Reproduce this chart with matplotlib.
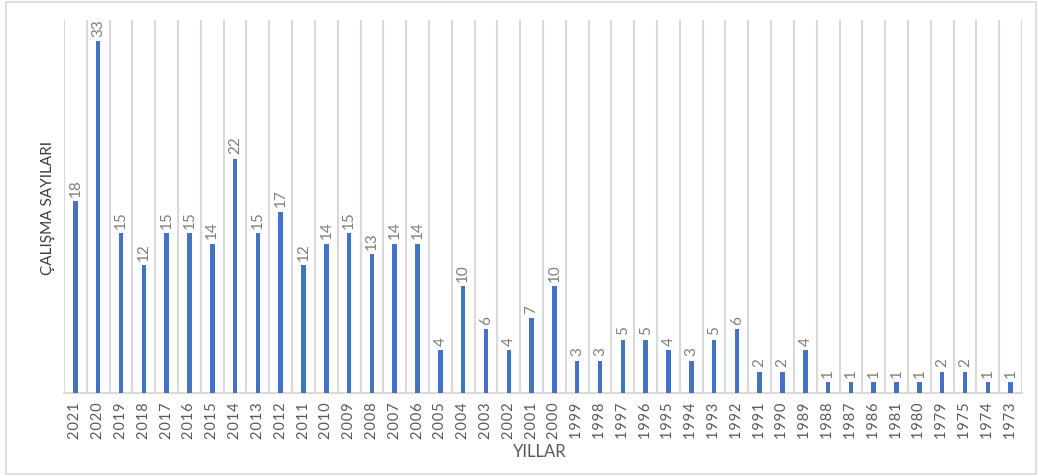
import matplotlib
matplotlib.use("Agg")
import matplotlib.pyplot as plt
from matplotlib.patches import Rectangle

years = ["2021","2020","2019","2018","2017","2016","2015","2014","2013","2012","2011","2010",
         "2009","2008","2007","2006","2005","2004","2003","2002","2001","2000","1999","1998",
         "1997","1996","1995","1994","1993","1992","1991","1990","1989","1988","1987","1986",
         "1981","1980","1979","1975","1974","1973"]
counts = [18,33,15,12,15,15,14,22,15,17,12,14,15,13,14,14,4,10,6,4,7,10,3,3,5,5,4,3,5,6,
          2,2,4,1,1,1,1,1,2,2,1,1]

plt.rcParams['font.family'] = ['Lato', 'DejaVu Sans']

fig = plt.figure(figsize=(10.38, 4.77), dpi=100)
fig.patches.append(Rectangle((6/1038, 2/477), 1 - 8/1038, 1 - 5/477, transform=fig.transFigure,
                             fill=False, edgecolor="#D9D9D9", linewidth=1.2))
ax = fig.add_axes([64/1038, (477-394)/477, (1022-64)/1038, (394-21)/477])

x = list(range(len(years)))
ax.bar(x, counts, width=0.2, color="#4472C4", zorder=3)
for xi, v in zip(x, counts):
    ax.annotate(str(v), (xi, v), xytext=(0, 4), textcoords="offset points",
                rotation=90, ha="center", va="bottom", fontsize=11, color="#7F7F7F")

ax.set_xlim(-0.5, len(years) - 0.5)
ax.set_ylim(0, 35)
ax.set_xticks(x)
ax.set_xticklabels(["\u200a".join(y) for y in years], rotation=90, fontsize=10.5, color="#595959")
ax.set_xticks([i - 0.5 for i in range(len(years) + 1)], minor=True)
ax.grid(True, which="minor", axis="x", color="#D9D9D9", linewidth=1.5, zorder=0)
ax.tick_params(axis="x", which="both", length=0, pad=6)
ax.set_yticks([])
for s in ["top", "right", "left"]:
    ax.spines[s].set_visible(False)
ax.spines["bottom"].set_color("#D9D9D9")
ax.spines["bottom"].set_linewidth(1.5)

fig.text(48/1038, 1 - 208/477, "ÇALIŞMA SAYILARI", rotation=90, ha="center", va="center",
         fontsize=11, color="#404040")
fig.text(540/1038, 1 - 452/477, "YILLAR", ha="center", va="center", fontsize=12, color="#595959")

fig.savefig("out.png", dpi=100)
